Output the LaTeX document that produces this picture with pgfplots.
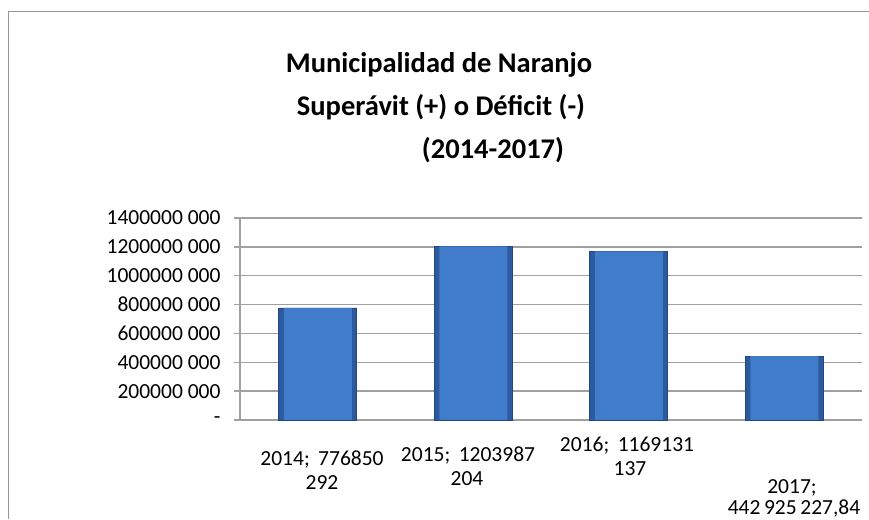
\documentclass[border=0pt]{standalone}
\usepackage{pgfplots}
\pgfplotsset{compat=1.18}
\usepackage{fontspec}
\setmainfont{Carlito}
\definecolor{barmid}{RGB}{64,124,202}
\definecolor{baredge}{RGB}{44,90,158}
\definecolor{gridgray}{RGB}{160,160,160}
\definecolor{framegray}{RGB}{150,150,150}
\begin{document}
\begin{tikzpicture}[x=1pt,y=1pt]
\useasboundingbox (0,0) rectangle (869,519);
\draw[framegray, line width=1.6pt] (8.5,0) -- (8.5,507.5) -- (869,507.5);

% title, three lines as in the reference
\node[anchor=base, font=\fontsize{28.5}{34}\selectfont\bfseries] at (439,446) {Municipalidad de Naranjo};
\node[anchor=base, font=\fontsize{28.5}{34}\selectfont\bfseries] at (441,403) {Superávit (+) o Déficit (-)};
\node[anchor=base, font=\fontsize{28.5}{34}\selectfont\bfseries] at (493,360) {(2014-2017)};

\begin{axis}[
    at={(240pt,99pt)}, anchor=south west,
    scale only axis, width=622pt, height=202pt,
    xmin=0.5, xmax=4.5,
    ymin=0, ymax=1400000000,
    scaled y ticks=false,
    axis x line*=bottom, axis y line*=left,
    axis line style={draw=gridgray, line width=1.3pt},
    xtick=\empty,
    ytick={0,200000000,400000000,600000000,800000000,1000000000,1200000000,1400000000},
    yticklabels={-\hspace{8pt},200000 000,400000 000,600000 000,800000 000,1000000 000,1200000 000,1400000 000},
    ymajorgrids=true,
    grid style={draw=gridgray, line width=1.3pt},
    tick align=outside, major tick length=6pt,
    tick style={draw=gridgray, line width=1.3pt},
    yticklabel style={font=\fontsize{21.5}{24}\selectfont, anchor=east, xshift=-10pt},
    clip=false,
]
% outer bar (dark bevel edge)
\addplot[ybar, bar width=78pt, draw=baredge!80!black, line width=0.8pt, fill=baredge]
    coordinates {(1,776850292) (2,1203987204) (3,1169131137) (4,442925227.84)};
% bar body
\addplot[ybar, bar width=68pt, draw=none, fill=barmid]
    coordinates {(1,776850292) (2,1203987204) (3,1169131137) (4,442925227.84)};
\end{axis}

% data labels below the bars
\begin{scope}[every node/.style={anchor=base, font=\fontsize{21.5}{24}\selectfont}]
\node at (322,53) {2014;\ \,776850};
\node at (322,30) {292};
\node at (468,57) {2015;\ \,1203987};
\node at (467,34) {204};
\node at (627,67) {2016;\ \,1169131};
\node at (630,44) {137};
\node at (792,26) {2017;};
\node at (794,5) {442\,925\,227,84};
\end{scope}
\end{tikzpicture}
\end{document}
